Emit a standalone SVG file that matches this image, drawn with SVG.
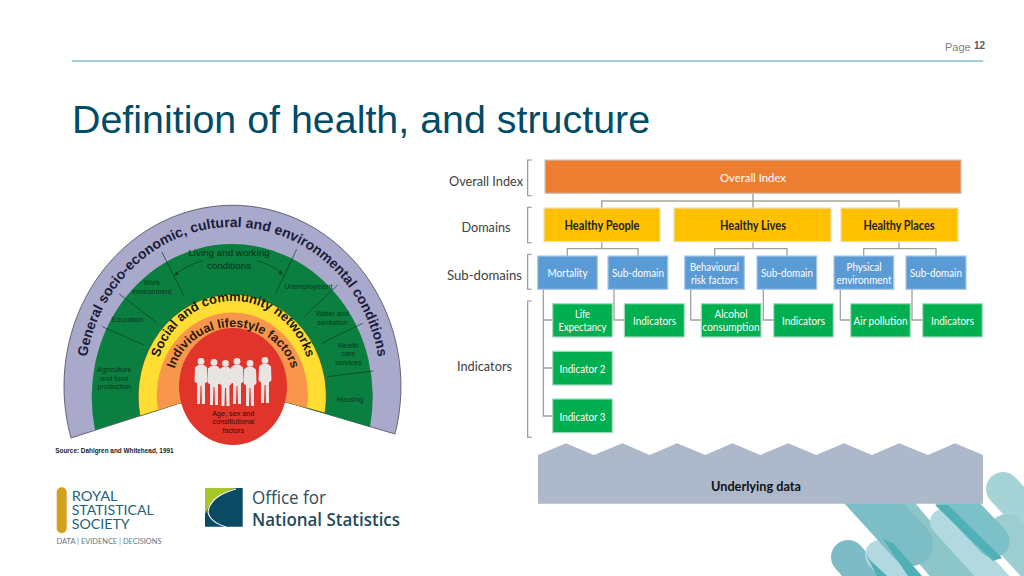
<svg xmlns="http://www.w3.org/2000/svg" width="1024" height="576" viewBox="0 0 1024 576">
<style>
text{font-family:"Liberation Sans",Arial,sans-serif}
.c{font-family:Lato,"Open Sans",sans-serif;text-anchor:middle;dominant-baseline:central;font-size:11.5px;fill:#fff}
.d{fill:#222;font-size:12.5px;font-weight:700}
.lab{font-family:Lato,"Open Sans",sans-serif;font-size:14px;fill:#404040;dominant-baseline:central;text-anchor:middle}
.or{fill:#ED7D31;stroke:#C9C4BE;stroke-width:1.2}
.ye{fill:#FFC000;stroke:#E9E2BE;stroke-width:1.2}
.bl{fill:#5B9BD5;stroke:#A8C7E6;stroke-width:1.2}
.gr{fill:#00B050;stroke:#A9D9BE;stroke-width:1.2}
.con{fill:none;stroke:#A6A696;stroke-width:1.5}
.con2{fill:none;stroke:#A0A0A0;stroke-width:1.3}
.br{fill:none;stroke:#8C8C8C;stroke-width:1.1}
.sm{font-size:7.2px;fill:#06381C;text-anchor:middle;dominant-baseline:central}
.ln{stroke:#0A3D20;stroke-width:.7;fill:none}
.arc{font-weight:700;fill:#1C1C3A}
.bar{fill:none;stroke-linecap:round}
.dark{fill:#4FB0B5}
</style>
<defs>
<path id="p1" d="M84.5,385 A148,158 0 0 1 380.5,385" fill="none"/>
<path id="p2" d="M155,385 A78,84 0 0 1 311,385" fill="none"/>
<path id="p3" d="M172,385 A61,58 0 0 1 294,385" fill="none"/>
<path id="person" d="M-3,7 L3,7 L6,9.5 L6.5,23 L5,25 L4,25 L4,46 L1,46 L.5,28 L-.5,28 L-1,46 L-4,46 L-4,25 L-5,25 L-6.5,23 L-6,9.5 Z M0,0 A3.4,3.4 0 1 1 0,6.8 A3.4,3.4 0 1 1 0,0 Z" fill="#E8E4E2"/>
<marker id="ah" markerWidth="7" markerHeight="7" refX="5" refY="3" orient="auto"><path d="M0,0 L6,3 L0,6 Z" fill="#0A3D20"/></marker>
</defs>
<rect width="1024" height="576" fill="#fff"/>

<g id="decor">
<line class="bar" x1="1003" y1="489" x2="1050" y2="540" stroke="#A6D3D6" stroke-width="34"/>
<line class="bar" x1="1007" y1="533" x2="1050" y2="580" stroke="#9CCDD0" stroke-width="38"/>
<line class="bar" x1="872" y1="480" x2="982" y2="610" stroke="#8CC6C8" stroke-width="36"/>
<line class="bar" x1="848" y1="557" x2="890" y2="605" stroke="#7DBCC6" stroke-width="34"/>
<line class="bar" x1="880" y1="555" x2="925" y2="605" stroke="#B3D9E0" stroke-width="30"/>
<line class="bar" x1="861" y1="489" x2="911" y2="544" stroke="#7DBDC6" stroke-width="44"/>
<line class="bar" x1="943" y1="522" x2="1020" y2="607" stroke="#B3D9E0" stroke-width="26"/>
<line class="bar" x1="945" y1="490" x2="993" y2="541" stroke="#7CC0C8" stroke-width="33"/>
<polygon class="dark" points="935,505 948,505 1002,558 993,561"/>
<polygon class="dark" points="883,539 893,543 922,576 908,576"/>
<polygon class="dark" points="865,553 870,560 887,576 877,576"/>
</g>

<g id="header">
<text x="945" y="51" font-size="11" fill="#7F7F7F">Page</text>
<text x="974" y="49" font-size="10" font-weight="700" fill="#595959">12</text>
<line x1="72" y1="61" x2="983" y2="61" stroke="#7FBFCF" stroke-width="1.3"/>
<text x="72" y="133" font-size="39.4" fill="#004B66">Definition of health, and structure</text>
</g>

<g id="rainbow">
<path id="layer-general" d="M71,438 A168.5,181 0 1 1 395,434 L286,402 L180,403 Z" fill="#A9A9CB" stroke="#4A4A5A" stroke-width=".8"/>
<path id="layer-living" d="M95,430 A140.5,153 0 1 1 370,427 L286,402 L180,403 Z" fill="#0B7F3F"/>
<path id="layer-social" d="M140,416 A94,102 0 1 1 325,413 L286,402 L180,403 Z" fill="#FFDD33" stroke="#3A3A1A" stroke-width=".5"/>
<path id="layer-lifestyle" d="M158,410 A75.5,83 0 1 1 307,408 L286,402 L180,403 Z" fill="#F8964B"/>
<ellipse id="layer-core" cx="233" cy="386.5" rx="54" ry="58.5" fill="#E1352C"/>
<g class="ln">
<path d="M161.7,251.7 L184,296"/><path d="M119.3,294 L156.7,322.7"/><path d="M102.3,326.7 L144,345"/>
<path d="M296.7,249.3 L276,292.7"/><path d="M337.7,285 L304.3,316.7"/><path d="M362.7,323.3 L321.7,343.3"/><path d="M373.3,371 L327.3,376.7"/>
<path d="M203,261 Q188,264 175,275" marker-end="url(#ah)"/>
<path d="M257,261 Q270,263 282,274" marker-end="url(#ah)"/>
</g>
<text class="arc" font-size="14"><textPath href="#p1" startOffset="50%" text-anchor="middle">General socio-economic, cultural and environmental conditions</textPath></text>
<text class="arc" font-size="13" style="fill:#1A1A10"><textPath href="#p2" startOffset="50%" text-anchor="middle">Social and community networks</textPath></text>
<text class="arc" font-size="12.5" style="fill:#2A1A10"><textPath href="#p3" startOffset="50%" text-anchor="middle">Individual lifestyle factors</textPath></text>
<text x="229" y="252.5" font-size="9.8" fill="#04301A" text-anchor="middle" dominant-baseline="central">Living and working</text>
<text x="229" y="265" font-size="9.8" fill="#04301A" text-anchor="middle" dominant-baseline="central">conditions</text>
<text class="sm" x="151.7" y="282.3">Work</text><text class="sm" x="151.7" y="291">environment</text>
<text class="sm" x="127.3" y="319">Education</text>
<text class="sm" x="114.3" y="369.3">Agriculture</text><text class="sm" x="114.3" y="378">and food</text><text class="sm" x="114.3" y="386.7">production</text>
<text class="sm" x="308.3" y="286.7">Unemployment</text>
<text class="sm" x="332.3" y="313.7">Water and</text><text class="sm" x="332.3" y="322.3">sanitation</text>
<text class="sm" x="348.3" y="345">Health</text><text class="sm" x="348.3" y="353.3">care</text><text class="sm" x="348.3" y="362.3">services</text>
<text class="sm" x="350" y="399">Housing</text>
<g>
<use href="#person" x="201" y="358"/><use href="#person" x="214" y="359"/><use href="#person" x="225.5" y="360"/>
<use href="#person" x="237" y="358"/><use href="#person" x="250" y="360"/><use href="#person" x="265" y="357"/>
</g>
<text x="233.3" y="413.3" font-size="7.2" fill="#3A0A08" text-anchor="middle" dominant-baseline="central">Age, sex and</text>
<text x="233.3" y="421.7" font-size="7.2" fill="#3A0A08" text-anchor="middle" dominant-baseline="central">constitutional</text>
<text x="233.3" y="430" font-size="7.2" fill="#3A0A08" text-anchor="middle" dominant-baseline="central">factors</text>
<text x="55.3" y="453" font-size="6.4" font-weight="700" fill="#222">Source: Dahlgren and Whitehead, 1991</text>
</g>

<g id="logo-rss">
<rect x="56.7" y="487.3" width="10" height="46" rx="5" fill="#D4A11E"/>
<text x="71.7" y="501" font-size="13.5" fill="#1F5F7A" style="font-family:Lato,sans-serif" textLength="46" lengthAdjust="spacingAndGlyphs">ROYAL</text>
<text x="71.7" y="515" font-size="13.5" fill="#1F5F7A" style="font-family:Lato,sans-serif" textLength="82" lengthAdjust="spacingAndGlyphs">STATISTICAL</text>
<text x="71.7" y="529.3" font-size="13.5" fill="#1F5F7A" style="font-family:Lato,sans-serif" textLength="58" lengthAdjust="spacingAndGlyphs">SOCIETY</text>
<text x="56.5" y="544" font-size="7.4" fill="#5A7A88" style="font-family:Lato,sans-serif" textLength="105">DATA | EVIDENCE | DECISIONS</text>
</g>

<g id="logo-ons">
<path d="M205,488 H242.7 V526.7 H205 Z" fill="#0B4A63"/>
<path d="M205,488 H236 Q214,494 205,514 Z" fill="#A8C82A"/>
<path d="M236,489 Q210,496 208,512 Q210,522 226,527" fill="none" stroke="#fff" stroke-width="1.2"/>
<text x="252" y="504" font-size="18.5" fill="#2A5060" style="font-family:'Open Sans',sans-serif" textLength="74" lengthAdjust="spacingAndGlyphs">Office for</text>
<text x="252" y="525.7" font-size="18.5" font-weight="600" fill="#1F4A5A" style="font-family:'Open Sans',sans-serif" textLength="148" lengthAdjust="spacingAndGlyphs">National Statistics</text>
</g>

<g id="level-labels">
<text class="lab" x="486" y="180.7" textLength="74" lengthAdjust="spacingAndGlyphs">Overall Index</text>
<text class="lab" x="486" y="226" textLength="49" lengthAdjust="spacingAndGlyphs">Domains</text>
<text class="lab" x="484.5" y="274" textLength="75" lengthAdjust="spacingAndGlyphs">Sub-domains</text>
<text class="lab" x="484.5" y="365" textLength="55" lengthAdjust="spacingAndGlyphs">Indicators</text>
<path class="br" d="M531.7,160 H527.7 V195.7 H531.7"/>
<path class="br" d="M531.7,207.3 H527.7 V242.7 H531.7"/>
<path class="br" d="M531.7,254.3 H527.7 V289.3 H531.7"/>
<path class="br" d="M531.7,301 H527.7 V437.3 H531.7"/>
</g>

<g id="connectors">
<path class="con" d="M753,193 V208 M601.7,208 V201 H899 V208"/>
<path class="con2" d="M601.7,242 V248.7 M567.3,256 V248.7 H638 V256"/>
<path class="con2" d="M753,242 V248.7 M714.7,256 V248.7 H787 V256"/>
<path class="con2" d="M899,242 V248.7 M863.7,256 V248.7 H936 V256"/>
<path class="con2" d="M543.3,289 V416 H552.7 M543.3,320 H552.7 M543.3,368 H552.7"/>
<path class="con2" d="M614,289 V320 H624.3"/>
<path class="con2" d="M690.7,289 V320 H701.3"/>
<path class="con2" d="M763.3,289 V320 H773.7"/>
<path class="con2" d="M840.3,289 V320 H850.7"/>
<path class="con2" d="M912,289 V320 H922.7"/>
</g>

<g id="overall"><rect class="or" x="545" y="160" width="416" height="33.3"/><text class="c" x="753" y="177" textLength="66" lengthAdjust="spacingAndGlyphs">Overall Index</text></g>
<g id="healthy-people"><rect class="ye" x="544" y="208" width="116" height="33.7"/><text class="c d" x="602" y="225.5" textLength="75" lengthAdjust="spacingAndGlyphs">Healthy People</text></g>
<g id="healthy-lives"><rect class="ye" x="674" y="208" width="157" height="33.7"/><text class="c d" x="753" y="225.5" textLength="66" lengthAdjust="spacingAndGlyphs">Healthy Lives</text></g>
<g id="healthy-places"><rect class="ye" x="841" y="208" width="117" height="33.7"/><text class="c d" x="899" y="225.5" textLength="71" lengthAdjust="spacingAndGlyphs">Healthy Places</text></g>
<g id="mortality"><rect class="bl" x="537.7" y="256" width="59.6" height="33.3"/><text class="c" x="567.5" y="272.5" textLength="40" lengthAdjust="spacingAndGlyphs">Mortality</text></g>
<g id="sub1"><rect class="bl" x="608" y="256" width="59.7" height="33.3"/><text class="c" x="638" y="272.5" textLength="52" lengthAdjust="spacingAndGlyphs">Sub-domain</text></g>
<g id="behavioural"><rect class="bl" x="684.7" y="256" width="59.6" height="33.3"/><text class="c" x="714.5" y="266.5" textLength="49" lengthAdjust="spacingAndGlyphs">Behavioural</text><text class="c" x="714.5" y="279.5" textLength="47" lengthAdjust="spacingAndGlyphs">risk factors</text></g>
<g id="sub2"><rect class="bl" x="757" y="256" width="59.7" height="33.3"/><text class="c" x="787" y="272.5" textLength="52" lengthAdjust="spacingAndGlyphs">Sub-domain</text></g>
<g id="physical"><rect class="bl" x="834" y="256" width="59.7" height="33.3"/><text class="c" x="864" y="266.5" textLength="35" lengthAdjust="spacingAndGlyphs">Physical</text><text class="c" x="864" y="279.5" textLength="55" lengthAdjust="spacingAndGlyphs">environment</text></g>
<g id="sub3"><rect class="bl" x="906" y="256" width="60" height="33.3"/><text class="c" x="936" y="272.5" textLength="52" lengthAdjust="spacingAndGlyphs">Sub-domain</text></g>
<g id="life"><rect class="gr" x="552.7" y="303.7" width="59.6" height="33.3"/><text class="c" x="582.5" y="313.7" textLength="15" lengthAdjust="spacingAndGlyphs">Life</text><text class="c" x="582.5" y="326.7" textLength="48" lengthAdjust="spacingAndGlyphs">Expectancy</text></g>
<g id="ind1"><rect class="gr" x="624.3" y="303.7" width="60" height="33.3"/><text class="c" x="654.5" y="320" textLength="43" lengthAdjust="spacingAndGlyphs">Indicators</text></g>
<g id="alcohol"><rect class="gr" x="701.3" y="303.7" width="59.7" height="33.3"/><text class="c" x="731" y="313.7" textLength="33" lengthAdjust="spacingAndGlyphs">Alcohol</text><text class="c" x="731" y="326.7" textLength="57" lengthAdjust="spacingAndGlyphs">consumption</text></g>
<g id="ind2"><rect class="gr" x="773.7" y="303.7" width="59.6" height="33.3"/><text class="c" x="803.5" y="320" textLength="43" lengthAdjust="spacingAndGlyphs">Indicators</text></g>
<g id="air"><rect class="gr" x="850.7" y="303.7" width="59.6" height="33.3"/><text class="c" x="880.5" y="320" textLength="54" lengthAdjust="spacingAndGlyphs">Air pollution</text></g>
<g id="ind3"><rect class="gr" x="922.7" y="303.7" width="59.6" height="33.3"/><text class="c" x="952.5" y="320" textLength="43" lengthAdjust="spacingAndGlyphs">Indicators</text></g>
<g id="indicator2"><rect class="gr" x="552.7" y="351.3" width="59.6" height="33.7"/><text class="c" x="582.5" y="368" textLength="46" lengthAdjust="spacingAndGlyphs">Indicator 2</text></g>
<g id="indicator3"><rect class="gr" x="552.7" y="399" width="59.6" height="33.7"/><text class="c" x="582.5" y="416" textLength="46" lengthAdjust="spacingAndGlyphs">Indicator 3</text></g>
<g id="underlying">
<polygon points="538,455 565.9,443.3 593.8,455 622.5,443.3 649.7,455 677.2,443.3 705.2,455 732.4,443.3 760.3,455 788.2,443.3 816.2,455 844,443.3 872,455 899.2,443.3 927.9,455 955,443.3 983,455 983,503.7 538,503.7" fill="#ADB9CA"/>
<text class="c d" x="756" y="486" style="fill:#111" textLength="90" lengthAdjust="spacingAndGlyphs">Underlying data</text>
</g>
</svg>
